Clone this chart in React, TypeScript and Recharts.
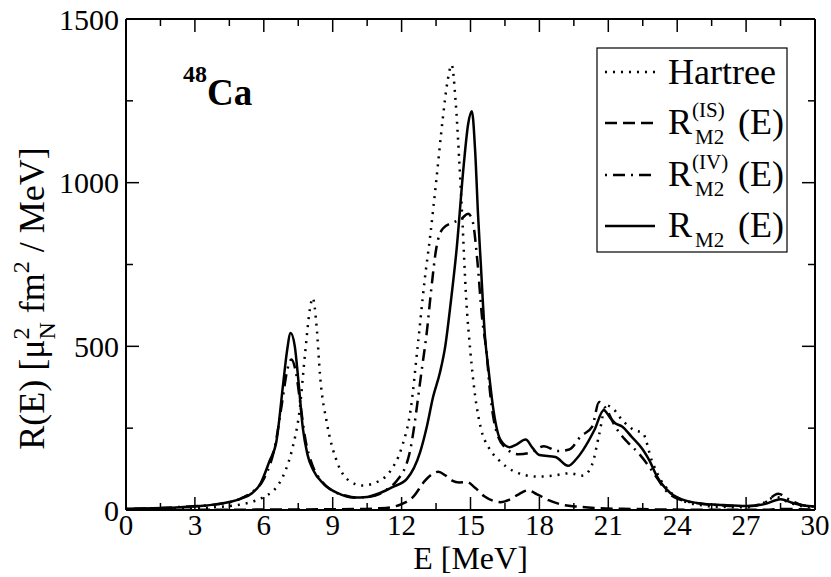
import React from 'react';
import { LineChart, Line, XAxis, YAxis, ReferenceLine } from 'recharts';

// Hartree (dotted)
const hartreeE = [0, 2, 4, 5, 5.5, 6, 6.5, 6.85, 7.25, 7.55, 7.8, 8.0, 8.13, 8.3, 8.45, 8.75, 9.2, 9.75, 10.3, 11, 11.5, 12, 12.4, 12.7, 13.0, 13.25, 13.5, 13.8, 14.0, 14.18, 14.35, 14.5, 14.65, 14.8, 15.0, 15.2, 15.45, 15.8, 16.2, 16.9, 17.9, 18.6, 19.3, 19.9, 20.3, 20.6, 20.9, 21.2, 21.6, 22.1, 22.5, 22.9, 23.3, 23.7, 24.2, 25, 26, 27, 27.7, 28.3, 28.8, 29.4, 30];
const hartreeR = [2, 4, 9, 17, 25, 40, 65, 105, 190, 300, 480, 610, 648, 560, 410, 265, 145, 88, 75, 88, 118, 190, 310, 500, 700, 840, 1000, 1200, 1310, 1360, 1250, 1080, 880, 660, 480, 350, 250, 190, 155, 118, 102, 105, 112, 105, 140, 230, 320, 310, 275, 245, 235, 150, 90, 55, 30, 15, 9, 8, 20, 40, 25, 12, 8];

// isoscalar R_M2^(IS) (dashed)
const isE = [0, 5, 10, 11, 11.5, 12, 12.5, 13, 13.3, 13.6, 13.9, 14.2, 14.5, 14.85, 15.2, 15.6, 16.0, 16.3, 16.7, 17.1, 17.5, 17.9, 18.4, 19, 19.7, 20.5, 22, 25, 28, 28.5, 30];
const isR = [0, 1, 3, 5, 8, 18, 40, 88, 108, 117, 106, 90, 84, 85, 68, 42, 28, 24, 32, 48, 60, 48, 30, 16, 10, 6, 3, 1, 1, 3, 1];

// isovector R_M2^(IV) (dash-dot)
const ivE = [0, 2, 4, 5, 5.5, 6, 6.5, 6.8, 7.0, 7.2, 7.4, 7.6, 7.8, 8.1, 8.5, 9, 9.5, 10, 10.5, 11, 11.5, 11.8, 12.35, 12.9, 13.1, 13.3, 13.5, 13.8, 14.3, 14.6, 14.9, 15.1, 15.3, 15.5, 15.7, 15.85, 16.15, 16.6, 17.1, 17.6, 18.2, 18.8, 19.3, 19.8, 20.3, 20.6, 20.9, 21.3, 21.8, 22.3, 22.7, 23.1, 23.5, 24, 25, 26, 27, 27.8, 28.4, 28.8, 29.3, 30];
const ivR = [3, 8, 18, 35, 55, 95, 200, 330, 420, 460, 420, 320, 220, 140, 90, 58, 45, 38, 40, 48, 70, 90, 175, 440, 545, 680, 795, 860, 880, 890, 905, 880, 760, 590, 480, 360, 235, 185, 170, 175, 195, 180, 185, 225, 255, 330, 310, 255, 210, 175, 140, 100, 60, 35, 20, 14, 11, 22, 50, 35, 18, 10];

// total R_M2 (solid)
const totE = [0, 2, 3.2, 4, 5, 5.5, 5.85, 6.25, 6.55, 6.85, 7.0, 7.17, 7.35, 7.5, 7.7, 7.9, 8.15, 8.6, 9.2, 9.9, 10.5, 11.06, 11.6, 12.23, 12.8, 13.1, 13.37, 13.67, 13.9, 14.15, 14.4, 14.7, 14.9, 15.06, 15.2, 15.33, 15.45, 15.63, 15.8, 16.0, 16.3, 16.7, 17.0, 17.4, 17.7, 18.0, 18.7, 19.25, 19.6, 19.9, 20.4, 20.8, 21.1, 21.3, 21.6, 22.0, 22.5, 22.8, 23.1, 23.7, 24.3, 25, 26, 27, 27.8, 28.5, 29, 29.5, 30];
const totR = [4, 7, 12, 18, 35, 52, 80, 150, 210, 390, 480, 541, 500, 400, 250, 170, 122, 80, 52, 38, 40, 52, 70, 95, 175, 255, 345, 420, 500, 640, 800, 1050, 1180, 1218, 1100, 900, 750, 530, 420, 305, 215, 192, 200, 215, 190, 168, 162, 135, 155, 183, 245, 305, 280, 265, 255, 225, 185, 150, 105, 52, 30, 20, 15, 12, 18, 33, 22, 14, 11];

const xTicks = [0, 1.5, 3, 4.5, 6, 7.5, 9, 10.5, 12, 13.5, 15, 16.5, 18, 19.5, 21, 22.5, 24, 25.5, 27, 28.5, 30];
const yTicks = [0, 250, 500, 750, 1000, 1250, 1500];

const W = 831;
const H = 577;
const PLOT = { left: 126, right: 815, top: 19, bottom: 510 };
const FONT = "'Liberation Serif', 'Times New Roman', Times, 'DejaVu Serif', serif";
const txt = { fontFamily: FONT };

const zip = (es: number[], rs: number[]) => es.map((e, i) => ({ E: e, R: rs[i] }));

const isMajor = (v: number, step: number) => Math.abs(v / step - Math.round(v / step)) < 1e-6;

const XTick = (props: any) => {
  const { x, payload } = props;
  const v = payload.value;
  const major = isMajor(v, 3);
  const len = major ? 13 : 7;
  return (
    <g>
      <line x1={x} x2={x} y1={PLOT.bottom} y2={PLOT.bottom - len} stroke="#000" strokeWidth={1.5} />
      <line x1={x} x2={x} y1={PLOT.top} y2={PLOT.top + len} stroke="#000" strokeWidth={1.5} />
      {major && (
        <text x={x} y={PLOT.bottom + 25} textAnchor="middle" style={txt} fontSize={29} fill="#000">
          {v}
        </text>
      )}
    </g>
  );
};

const YTick = (props: any) => {
  const { y, payload } = props;
  const v = payload.value;
  const major = isMajor(v, 500);
  const len = major ? 13 : 7;
  return (
    <g>
      <line x1={PLOT.left} x2={PLOT.left + len} y1={y} y2={y} stroke="#000" strokeWidth={1.5} />
      <line x1={PLOT.right} x2={PLOT.right - len} y1={y} y2={y} stroke="#000" strokeWidth={1.5} />
      {major && (
        <text x={PLOT.left - 7} y={y} dy="0.35em" textAnchor="end" style={txt} fontSize={30} fill="#000">
          {v}
        </text>
      )}
    </g>
  );
};

const legendRows = [
  { dash: '2 6', sup: '', label: 'Hartree', y: 72 },
  { dash: '12 6', sup: '(IS)', label: '', y: 123 },
  { dash: '2 6 12 6', sup: '(IV)', label: '', y: 175 },
  { dash: '', sup: '', label: '', y: 226 },
];

function Overlay() {
  return (
    <svg width={W} height={H} style={{ position: 'absolute', left: 0, top: 0, pointerEvents: 'none' }}>
      {/* annotation */}
      <text x={183} y={105} style={txt} fontWeight="bold" fill="#000">
        <tspan fontSize={24} dy={-23}>48</tspan>
        <tspan fontSize={37} dy={23}>Ca</tspan>
      </text>

      {/* x axis title */}
      <text x={(PLOT.left + PLOT.right) / 2} y={569} textAnchor="middle" style={txt} fontSize={32} fill="#000">
        E [MeV]
      </text>

      {/* y axis title */}
      <text
        transform={`translate(44, ${(PLOT.top + PLOT.bottom) / 2 + 34}) rotate(-90)`}
        textAnchor="middle"
        style={txt}
        fontSize={36}
        fill="#000"
      >
        <tspan>R(E) [μ</tspan>
        <tspan fontSize={24} dy={-15}>2</tspan>
        <tspan fontSize={24} dx={-12} dy={26}>N</tspan>
        <tspan dy={-11}> fm</tspan>
        <tspan fontSize={24} dy={-15}>2</tspan>
        <tspan dy={15}> / MeV]</tspan>
      </text>

      {/* legend */}
      <rect x={597} y={48} width={190} height={204} fill="#fff" stroke="#000" strokeWidth={1.2} />
      {legendRows.map((r, i) => (
        <g key={i}>
          <line
            x1={605}
            x2={655}
            y1={r.y}
            y2={r.y}
            stroke="#000"
            strokeWidth={2.5}
            strokeDasharray={r.dash || undefined}
          />
          {r.label ? (
            <text x={668} y={r.y + 12} style={txt} fontSize={36} fill="#000">
              {r.label}
            </text>
          ) : (
            <text style={txt} fontSize={36} fill="#000">
              <tspan x={668} y={r.y + 11}>R</tspan>
              {r.sup && (
                <tspan x={692} y={r.y - 6} fontSize={21}>
                  {r.sup}
                </tspan>
              )}
              <tspan x={695} y={r.y + 21} fontSize={21}>M2</tspan>
              <tspan x={738} y={r.y + 11}>(E)</tspan>
            </text>
          )}
        </g>
      ))}
    </svg>
  );
}

export default function App() {
  return (
    <div style={{ position: 'absolute', left: 0, top: 0, width: W, height: H, background: '#fff' }}>
      <LineChart width={W} height={H} margin={{ top: PLOT.top, right: W - PLOT.right, bottom: 0, left: 0 }}>
        <XAxis
          dataKey="E"
          type="number"
          domain={[0, 30]}
          ticks={xTicks}
          interval={0}
          tick={XTick}
          tickLine={false}
          height={H - PLOT.bottom}
          axisLine={{ stroke: '#000', strokeWidth: 2 }}
          allowDataOverflow
        />
        <YAxis
          type="number"
          domain={[0, 1500]}
          ticks={yTicks}
          interval={0}
          tick={YTick}
          tickLine={false}
          width={PLOT.left}
          axisLine={{ stroke: '#000', strokeWidth: 2 }}
          allowDataOverflow
        />
        <ReferenceLine y={1500} stroke="#000" strokeWidth={2} />
        <ReferenceLine x={30} stroke="#000" strokeWidth={2} />
        <Line data={zip(isE, isR)} dataKey="R" type="monotone" stroke="#000" strokeWidth={2.5} strokeDasharray="12 6" dot={false} isAnimationActive={false} />
        <Line data={zip(ivE, ivR)} dataKey="R" type="monotone" stroke="#000" strokeWidth={2.5} strokeDasharray="2 6 12 6" dot={false} isAnimationActive={false} />
        <Line data={zip(hartreeE, hartreeR)} dataKey="R" type="monotone" stroke="#000" strokeWidth={2.5} strokeDasharray="2 6" dot={false} isAnimationActive={false} />
        <Line data={zip(totE, totR)} dataKey="R" type="monotone" stroke="#000" strokeWidth={2.5} dot={false} isAnimationActive={false} />
      </LineChart>
      <Overlay />
    </div>
  );
}
